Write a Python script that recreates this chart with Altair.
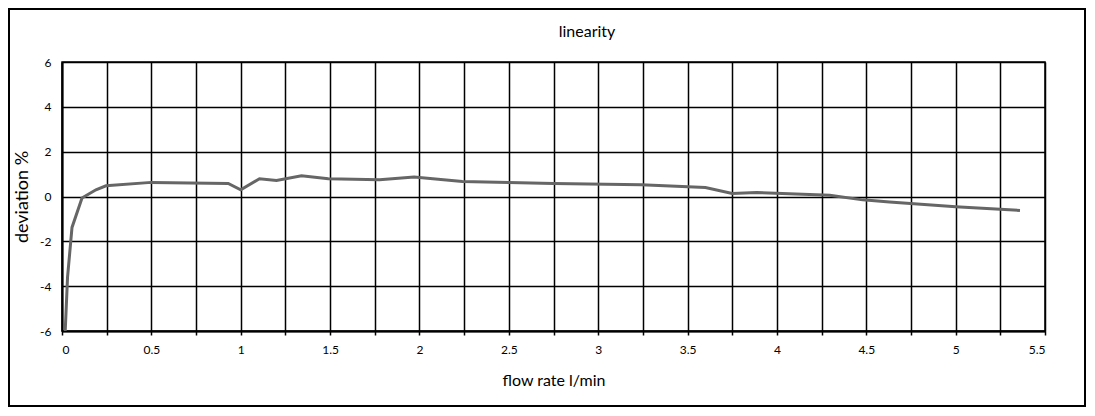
import altair as alt
import pandas as pd

flow = [0.018, 0.031, 0.056, 0.112, 0.19, 0.246, 0.5, 0.93, 1.0, 1.105, 1.2, 1.34,
        1.49, 1.777, 1.97, 2.24, 2.5, 2.75, 3.24, 3.6, 3.75, 3.886, 4.296, 4.48,
        4.63, 5.0, 5.36]
deviation = [-6.0, -3.6, -1.38, -0.07, 0.3, 0.48, 0.63, 0.58, 0.3, 0.79, 0.71, 0.92,
             0.79, 0.75, 0.87, 0.67, 0.63, 0.58, 0.52, 0.4, 0.13, 0.18, 0.06, -0.15,
             -0.25, -0.46, -0.62]

x_ticks = [i * 0.25 for i in range(23)]
y_ticks = [-6, -4, -2, 0, 2, 4, 6]
chart_title = ["linearity"]

df = pd.DataFrame({"flow": flow, "dev": deviation})
frame_df = pd.DataFrame({"k": [0]})
title_df = pd.DataFrame({"t": chart_title})

FONT = "Lato"
W, H = 983, 269

line = alt.Chart(df).mark_line(color="#666666", strokeWidth=3, clip=True).encode(
    x=alt.X("flow:Q",
            scale=alt.Scale(domain=[0, 5.5], nice=False, zero=False),
            axis=alt.Axis(values=x_ticks,
                          labelExpr="datum.value % 0.5 == 0 ? format(datum.value, '~g') : ''",
                          title="flow rate l/min", titleY=49, titleBaseline="middle",
                          titleFontSize=16, tickSize=4, labelPadding=9,
                          labelFontSize=12)),
    y=alt.Y("dev:Q",
            scale=alt.Scale(domain=[-6, 6], nice=False),
            axis=alt.Axis(values=y_ticks, title="deviation %",
                          labelExpr="replace(datum.label, '\u2212', '-')",
                          titleX=-40, titleY=H / 2, titleAngle=-90,
                          titleBaseline="middle", titleFontSize=18,
                          ticks=False, labelPadding=11, labelFontSize=12)),
)

frame = alt.Chart(frame_df).mark_rect(fill=None, stroke="black", strokeWidth=2,
                                      clip=False).encode(
    x=alt.value(-53), x2=alt.value(1023), y=alt.value(-53), y2=alt.value(344)
)

title = alt.Chart(title_df).mark_text(font=FONT, fontSize=16, color="black",
                                      baseline="middle", align="center").encode(
    x=alt.value(525), y=alt.value(-30), text="t:N"
)

chart = alt.layer(frame, line, title).properties(
    width=W, height=H,
    background="white",
    autosize=alt.AutoSizeParams(type="none"),
    padding={"left": 54, "top": 54, "right": 41, "bottom": 76},
).configure_axis(
    labelFont=FONT, titleFont=FONT, labelColor="black", titleColor="black",
    titleFontWeight="normal",
    domainColor="black", domainWidth=2,
    tickColor="black", tickWidth=1.5,
    gridColor="black", gridWidth=1.5, gridOpacity=1,
).configure_view(
    stroke="black", strokeWidth=1.5
)

chart.save("out.html", embed_options={"renderer": "svg", "actions": False})
